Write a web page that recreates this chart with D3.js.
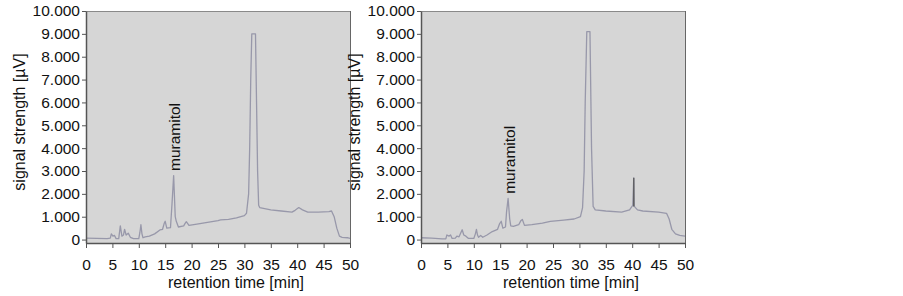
<!DOCTYPE html>
<html>
<head>
<meta charset="utf-8">
<script src="https://cdn.jsdelivr.net/npm/d3@7"></script>
<style>
  body { margin: 0; background: #fff; }
  svg { display: block; font-family: "Liberation Sans", Arial, sans-serif; }
</style>
</head>
<body>
<div id="chart"></div>
<script>
// Data: retention time [min], signal [µV]
const xTicks = [0, 5, 10, 15, 20, 25, 30, 35, 40, 45, 50];
const yTicks = [0, 1000, 2000, 3000, 4000, 5000, 6000, 7000, 8000, 9000, 10000];

const traceA = [
  [0, 60], [2, 50], [4, 40], [4.6, 60], [4.8, 250], [5.1, 150], [5.4, 180], [5.7, 40],
  [6.2, 40], [6.5, 600], [6.8, 150], [7.1, 200], [7.3, 450], [7.6, 200], [8.0, 280],
  [8.4, 100], [9.0, 40], [10.0, 40], [10.2, 300], [10.4, 650], [10.6, 250], [10.8, 80],
  [11.2, 120], [12, 150], [13, 250], [14, 420], [14.5, 450], [14.8, 700], [15.0, 800],
  [15.3, 500], [16.0, 520], [16.3, 1600], [16.6, 2800], [16.9, 1000], [17.1, 800],
  [17.5, 550], [18.5, 600], [18.8, 720], [19.0, 780], [19.5, 620], [21, 680],
  [23, 750], [25, 830], [25.5, 860], [27, 880], [28.5, 950], [30.0, 1050], [30.4, 1150],
  [30.8, 2000], [31.0, 4000], [31.2, 7000], [31.4, 9000], [32.1, 9000], [32.3, 6000],
  [32.5, 3000], [32.7, 1500], [32.9, 1400], [35, 1300], [37, 1250], [39, 1200],
  [39.6, 1280], [40.3, 1400], [41, 1300], [42, 1200], [44, 1200], [46, 1220], [46.5, 1250],
  [47, 1000], [47.5, 500], [48, 150], [48.5, 100], [49.5, 80], [50, 50]
];

const traceB = [
  [0, 80], [2, 60], [4, 30], [4.7, 30], [4.9, 200], [5.3, 150], [5.6, 200], [5.9, 50],
  [6.5, 60], [6.8, 150], [7.2, 120], [7.8, 430], [8.1, 200], [8.5, 150], [9.0, 50],
  [10.0, 50], [10.3, 250], [10.5, 450], [10.7, 200], [10.9, 100], [11.3, 180], [11.7, 100],
  [12.5, 200], [13.5, 350], [14.5, 450], [14.9, 700], [15.2, 800], [15.5, 500], [16.0, 550],
  [16.2, 1200], [16.5, 1800], [16.8, 900], [17.0, 600], [17.5, 580], [18.5, 650],
  [18.9, 820], [19.2, 880], [19.6, 620], [21, 650], [23, 720], [24.5, 800],
  [27, 850], [29, 900], [30.2, 1000], [30.6, 1400], [30.9, 3000], [31.1, 6000],
  [31.4, 9100], [32.0, 9100], [32.3, 4000], [32.6, 1450], [33, 1300], [35, 1250],
  [38, 1200], [39.5, 1300], [40.1, 1500], [40.3, 2700], [40.4, 1450], [41, 1300],
  [42, 1250], [45, 1200], [46.5, 1150], [47, 900], [47.5, 450], [48.2, 250], [49, 180],
  [50, 150]
];
const spikeB = [[40.25, 1450], [40.3, 2700], [40.35, 1450]];

const labelA = { t: 16.9, v: 3000, text: "muramitol" };
const labelB = { t: 16.9, v: 2000, text: "muramitol" };

const width = 903, height = 296;
const svg = d3.select("#chart").append("svg")
  .attr("width", width).attr("height", height);

const fmt = d3.formatLocale({ decimal: ",", thousands: ".", grouping: [3], currency: ["", ""] }).format(",d");

function panel(left, trace, label, extra) {
  const w = 264, top = 11, bottom = 243;
  const x = d3.scaleLinear().domain([0, 50]).range([left, left + w]);
  const y = d3.scaleLinear().domain([-150, 10000]).range([bottom, top]);
  const g = svg.append("g");

  g.append("rect")
    .attr("x", left).attr("y", top).attr("width", w).attr("height", bottom - top)
    .attr("fill", "#d6d6d6");
  g.append("line").attr("x1", left).attr("x2", left + w).attr("y1", top + 0.5).attr("y2", top + 0.5)
    .attr("stroke", "#8a8a8a");
  g.append("line").attr("x1", left + w + 0.5).attr("x2", left + w + 0.5).attr("y1", top).attr("y2", bottom)
    .attr("stroke", "#666");

  const line = d3.line().x(d => x(d[0])).y(d => y(d[1]));
  g.append("path").datum(trace).attr("d", line)
    .attr("fill", "none").attr("stroke", "#9898aa").attr("stroke-width", 1.3)
    .attr("stroke-linejoin", "round");
  if (extra) {
    g.append("path").datum(extra).attr("d", line)
      .attr("fill", "none").attr("stroke", "#555").attr("stroke-width", 0.8);
  }

  const xa = g.append("g").attr("transform", `translate(0,${bottom})`)
    .call(d3.axisBottom(x).tickValues(xTicks).tickSize(5).tickPadding(11).tickSizeOuter(0));
  const ya = g.append("g").attr("transform", `translate(${left},0)`)
    .call(d3.axisLeft(y).tickValues(yTicks).tickFormat(fmt).tickSize(4).tickPadding(2).tickSizeOuter(0));
  [xa, ya].forEach(a => {
    a.select(".domain").attr("stroke", "#555").attr("stroke-width", 1.5);
    a.selectAll(".tick line").attr("stroke", "#555");
    a.selectAll("text").attr("font-size", "15.5px").attr("fill", "#111")
      .attr("font-family", "Liberation Sans, Arial, sans-serif");
  });

  g.append("text")
    .attr("x", left + w / 2 + 18).attr("y", 288)
    .attr("text-anchor", "middle").attr("font-size", "16px").attr("fill", "#111")
    .text("retention time [min]");
  g.append("text")
    .attr("transform", `translate(${left - 61},${122}) rotate(-90)`)
    .attr("text-anchor", "middle").attr("font-size", "16px").attr("fill", "#111")
    .text("signal strength [µV]");

  g.append("text")
    .attr("transform", `translate(${x(label.t) + 5},${y(label.v)}) rotate(-90)`)
    .attr("font-size", "15.5px").attr("fill", "#111")
    .text(label.text);
}

panel(86, traceA, labelA, null);
panel(421, traceB, labelB, spikeB);
</script>
</body>
</html>
